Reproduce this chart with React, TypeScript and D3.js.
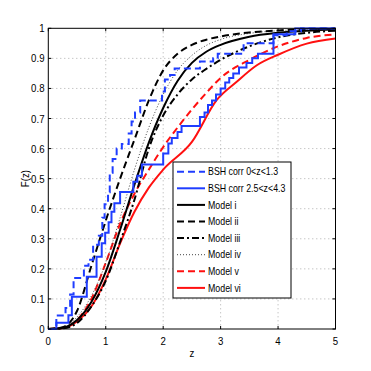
import React from "react";
import * as d3 from "d3";

// ---------- data ----------
const xTicks = [0, 1, 2, 3, 4, 5];
const yTicks = [0, 0.1, 0.2, 0.3, 0.4, 0.5, 0.6, 0.7, 0.8, 0.9, 1];

const zGrid = [0, 0.25, 0.5, 0.75, 1, 1.25, 1.5, 1.75, 2, 2.25, 2.5, 2.75, 3, 3.5, 4, 4.5, 5];
const modelI = [0, 0.004, 0.03, 0.09, 0.19, 0.33, 0.48, 0.62, 0.735, 0.825, 0.885, 0.922, 0.945, 0.972, 0.985, 0.992, 0.996];
const modelII = [0, 0.006, 0.06, 0.21, 0.36, 0.5, 0.63, 0.76, 0.86, 0.915, 0.945, 0.962, 0.973, 0.986, 0.993, 0.997, 0.999];
const modelIII = [0, 0.002, 0.02, 0.075, 0.16, 0.29, 0.43, 0.6, 0.71, 0.78, 0.83, 0.865, 0.895, 0.94, 0.97, 0.985, 0.992];
const modelIV = [0, 0.004, 0.04, 0.11, 0.22, 0.37, 0.53, 0.67, 0.78, 0.86, 0.91, 0.943, 0.963, 0.983, 0.992, 0.996, 0.998];
const modelV = [0, 0.003, 0.03, 0.1, 0.22, 0.35, 0.45, 0.53, 0.605, 0.67, 0.73, 0.785, 0.835, 0.895, 0.94, 0.968, 0.98];

const zVI = [0, 0.25, 0.5, 0.75, 1, 1.25, 1.5, 1.75, 2, 2.5, 2.93, 3.28, 3.63, 4, 4.5, 5];
const modelVI = [0, 0.003, 0.025, 0.075, 0.165, 0.285, 0.39, 0.47, 0.53, 0.622, 0.761, 0.822, 0.877, 0.912, 0.949, 0.966];

// empirical CDFs: z where the step occurs, F after the step
const bshLowZ = [0, 0.14, 0.3, 0.38, 0.44, 0.62, 0.7, 0.78, 0.88, 0.94, 0.98, 1.04, 1.07, 1.12, 1.19, 1.28, 1.4, 1.45, 1.51, 1.6, 1.98, 2.03, 2.12, 2.2, 2.64, 2.87, 2.95, 3.4, 3.92, 4.15, 4.4, 5];
const bshLowF = [0, 0.045, 0.07, 0.115, 0.17, 0.21, 0.23, 0.28, 0.31, 0.37, 0.415, 0.455, 0.52, 0.565, 0.6, 0.615, 0.65, 0.69, 0.72, 0.76, 0.79, 0.83, 0.845, 0.866, 0.89, 0.9, 0.915, 0.95, 0.977, 0.99, 1, 1];

const bshHighZ = [0, 0.14, 0.35, 0.41, 0.67, 0.84, 0.93, 0.99, 1.05, 1.1, 1.15, 1.25, 1.48, 1.55, 1.63, 2.0, 2.09, 2.15, 2.25, 2.32, 2.64, 2.72, 2.78, 2.85, 2.92, 3.0, 3.08, 3.15, 3.22, 3.32, 3.45, 3.55, 3.65, 3.92, 4.3, 5];
const bshHighF = [0, 0.021, 0.046, 0.107, 0.174, 0.24, 0.285, 0.32, 0.355, 0.39, 0.418, 0.456, 0.49, 0.51, 0.547, 0.584, 0.617, 0.635, 0.655, 0.675, 0.705, 0.72, 0.745, 0.76, 0.78, 0.8, 0.82, 0.835, 0.85, 0.87, 0.885, 0.9, 0.915, 0.98, 1, 1];

const legendLabels = [
  "BSH corr 0<z<1.3",
  "BSH corr 2.5<z<4.3",
  "Model i",
  "Model ii",
  "Model iii",
  "Model iv",
  "Model v",
  "Model vi",
];

// ---------- styles ----------
const BLUE = "#1f3dff";
const RED = "#ff1010";
const BLACK = "#000";

type Style = { color: string; width: number; dash?: string; step?: boolean };
const styles: Style[] = [
  { color: BLUE, width: 2, dash: "7,4", step: true },
  { color: BLUE, width: 2, step: true },
  { color: BLACK, width: 2 },
  { color: BLACK, width: 2, dash: "7,4" },
  { color: BLACK, width: 2, dash: "7,3,2,3" },
  { color: "#444", width: 1, dash: "1,2" },
  { color: RED, width: 2, dash: "7,4" },
  { color: RED, width: 2 },
];

const FONT = "'Liberation Sans', Arial, sans-serif";

function Txt(props: { x: number; y: number; size: number; anchor?: string; sx?: number; rotate?: number; children: React.ReactNode }) {
  const { x, y, size, anchor = "start", sx = 0.84, rotate = 0, children } = props;
  return (
    <text
      transform={`translate(${x},${y}) rotate(${rotate}) scale(${sx},1)`}
      fontSize={size}
      fontFamily={FONT}
      textAnchor={anchor}
      fill="#000"
    >
      {children}
    </text>
  );
}

export default function App() {
  const W = 371, H = 371;
  const left = 48.3, right = 335.5, top = 28.3, bottom = 329;
  const x = d3.scaleLinear().domain([0, 5]).range([left, right]);
  const y = d3.scaleLinear().domain([0, 1]).range([bottom, top]);

  const smooth = d3.line<[number, number]>().x(d => x(d[0])).y(d => y(d[1])).curve(d3.curveMonotoneX);
  const stepped = d3.line<[number, number]>().x(d => x(d[0])).y(d => y(d[1])).curve(d3.curveStepAfter);

  const zip = (zs: number[], fs: number[]) => zs.map((z, i) => [z, fs[i]] as [number, number]);

  const series: [number, number][][] = [
    zip(bshLowZ, bshLowF),
    zip(bshHighZ, bshHighF),
    zip(zGrid, modelI),
    zip(zGrid, modelII),
    zip(zGrid, modelIII),
    zip(zGrid, modelIV),
    zip(zGrid, modelV),
    zip(zVI, modelVI),
  ];

  const order = [7, 6, 5, 4, 3, 2, 1, 0];

  const legX = 173, legY = 162, legW = 118, legH = 136;
  const rowY0 = 171.7, rowStep = 16.6;

  return (
    <svg width={W} height={H} style={{ position: "absolute", left: 0, top: 0, background: "#fff" }}>
      <rect x={0} y={0} width={W} height={H} fill="#fff" />
      <defs>
        <clipPath id="plotclip">
          <rect x={left} y={top - 1} width={right - left} height={bottom - top + 2} />
        </clipPath>
      </defs>
      {xTicks.slice(1, -1).map(t => (
        <line key={"gx" + t} x1={x(t)} x2={x(t)} y1={top} y2={bottom} stroke="#999" strokeWidth={0.8} strokeDasharray="1,3" />
      ))}
      {yTicks.slice(1, -1).map(t => (
        <line key={"gy" + t} x1={left} x2={right} y1={y(t)} y2={y(t)} stroke="#999" strokeWidth={0.8} strokeDasharray="1,3" />
      ))}
      <g clipPath="url(#plotclip)">
        {order.map(i => {
          const s = styles[i];
          const gen = s.step ? stepped : smooth;
          return (
            <path key={"s" + i} d={gen(series[i]) || ""} fill="none" stroke={s.color}
              strokeWidth={s.width} strokeDasharray={s.dash} strokeLinejoin="miter" />
          );
        })}
      </g>
      <rect x={left} y={top} width={right - left} height={bottom - top} fill="none" stroke="#000" strokeWidth={1} />
      {xTicks.map(t => (
        <g key={"tx" + t}>
          <line x1={x(t)} x2={x(t)} y1={bottom} y2={bottom - 3} stroke="#000" />
          <line x1={x(t)} x2={x(t)} y1={top} y2={top + 3} stroke="#000" />
          <Txt x={x(t)} y={344.5} size={11.5} anchor="middle">{t}</Txt>
        </g>
      ))}
      {yTicks.map(t => (
        <g key={"ty" + t}>
          <line x1={left} x2={left + 3} y1={y(t)} y2={y(t)} stroke="#000" />
          <line x1={right} x2={right - 3} y1={y(t)} y2={y(t)} stroke="#000" />
          <Txt x={44.5} y={y(t) + 4} size={11.5} anchor="end">{d3.format("~g")(t)}</Txt>
        </g>
      ))}
      <Txt x={x(2.5)} y={357} size={11.5} anchor="middle">z</Txt>
      <Txt x={29} y={(top + bottom) / 2} size={11.5} anchor="middle" rotate={-90}>F(z)</Txt>
      <rect x={legX} y={legY} width={legW} height={legH} fill="#fff" stroke="#000" strokeWidth={1} />
      {legendLabels.map((lab, i) => {
        const s = styles[i];
        const ry = rowY0 + i * rowStep;
        return (
          <g key={"lg" + i}>
            <line x1={177} x2={205} y1={ry} y2={ry} stroke={s.color} strokeWidth={s.width} strokeDasharray={s.dash} />
            <Txt x={208} y={ry + 3.7} size={10.5} sx={0.84}>{lab}</Txt>
          </g>
        );
      })}
    </svg>
  );
}
